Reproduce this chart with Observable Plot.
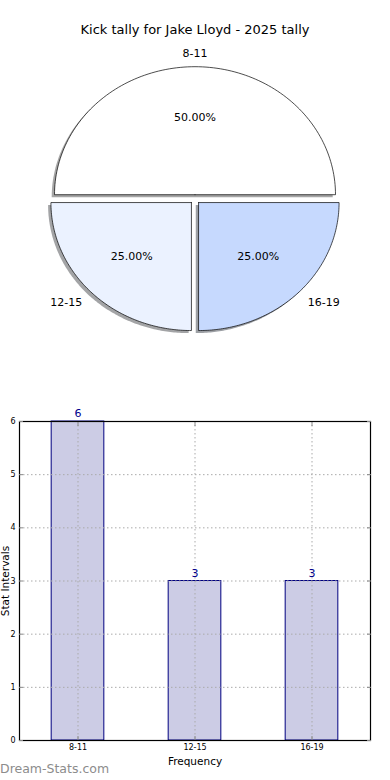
<!DOCTYPE html>
<html>
<head>
<meta charset="utf-8">
<script src="https://cdn.jsdelivr.net/npm/d3@7"></script>
<script src="https://cdn.jsdelivr.net/npm/@observablehq/plot@0.6"></script>
<style>
  html, body { margin: 0; padding: 0; background: #fff; }
  #wrap { position: relative; width: 390px; height: 780px; overflow: hidden; font-family: "DejaVu Sans", sans-serif; }
  #title { position: absolute; left: 0; top: 0; width: 390px; height: 40px; text-align: center; font-size: 13px; line-height: 20px; padding-top: 20px; box-sizing: border-box; color: #000; }
  #pie { position: absolute; left: 0; top: 40px; }
  #bar { position: absolute; left: 0; top: 385px; }
  #mark { position: absolute; left: 0; top: 761px; font-size: 12.5px; color: #8c8c8c; line-height: 16px; }
  svg { overflow: visible; }
  #bar g[aria-label="y-axis label"] text, #bar g[aria-label="x-axis label"] text { font-size: 10.5px; }
</style>
</head>
<body>
<div id="wrap">
  <div id="title">Kick tally for Jake Lloyd - 2025 tally</div>
  <div id="pie"></div>
  <div id="bar"></div>
  <div id="mark">Dream-Stats.com</div>
</div>
<script>
const categories = ["8-11", "12-15", "16-19"];
const counts = [6, 3, 3];
const sliceColors = ["#ffffff", "#ebf2ff", "#c6d9fe"];
const yTicks = [0, 1, 2, 3, 4, 5, 6];
const explode = 0.036;

// ---------- Pie ----------
const total = d3.sum(counts);
let acc = 0;
const slices = categories.map((c, i) => {
  const a0 = acc / total * 2 * Math.PI;
  acc += counts[i];
  const a1 = acc / total * 2 * Math.PI;
  const mid = (a0 + a1) / 2;
  const ox = explode * Math.cos(mid), oy = explode * Math.sin(mid);
  const pts = [[ox, oy]];
  const n = 120;
  for (let k = 0; k <= n; k++) {
    const a = a0 + (a1 - a0) * k / n;
    pts.push([ox + Math.cos(a), oy + Math.sin(a)]);
  }
  pts.push([ox, oy]);
  return {cat: c, i, mid, ox, oy, pts, pct: (counts[i] / total * 100).toFixed(2) + "%"};
});

function darker(hex) {
  const c = d3.rgb(hex);
  return d3.rgb(c.r * 0.3, c.g * 0.3, c.b * 0.3).formatHex();
}

const pieMarks = [];
slices.forEach(s => {
  pieMarks.push(Plot.line(s.pts.map(p => [p[0] - 0.02, p[1] - 0.02]), {
    x: d => d[0], y: d => d[1], fill: darker(sliceColors[s.i]), fillOpacity: 0.5, stroke: "none", curve: "linear"
  }));
});
slices.forEach(s => {
  pieMarks.push(Plot.line(s.pts, {
    x: d => d[0], y: d => d[1], fill: sliceColors[s.i], stroke: "#000", strokeWidth: 0.7, curve: "linear"
  }));
});
const labelData = slices.map(s => ({
  cat: s.cat, pct: s.pct,
  lx: s.ox + 1.1 * Math.cos(s.mid), ly: s.oy + 1.1 * Math.sin(s.mid),
  px: s.ox + 0.6 * Math.cos(s.mid), py: s.oy + 0.6 * Math.sin(s.mid),
  anchor: Math.cos(s.mid) < -0.01 ? "end" : (Math.cos(s.mid) > 0.01 ? "start" : "middle")
}));
["start", "middle", "end"].forEach(an => {
  pieMarks.push(Plot.text(labelData.filter(d => d.anchor === an), {
    x: "lx", y: "ly", text: "cat", textAnchor: an, fontSize: 11, fill: "#000"
  }));
});
pieMarks.push(Plot.text(labelData, {x: "px", y: "py", text: "pct", fontSize: 11, fill: "#000"}));

const pie = Plot.plot({
  width: 390, height: 340,
  margin: 0,
  style: {fontFamily: "DejaVu Sans, sans-serif", background: "transparent"},
  x: {domain: [-194.5 / 140.5, (390 - 194.5) / 140.5], axis: null},
  y: {domain: [(158.8 - 340) / 128, 158.8 / 128], axis: null},
  marks: pieMarks
});
document.getElementById("pie").appendChild(pie);

// ---------- Bar ----------
const barData = categories.map((c, i) => ({cat: c, i, v: counts[i]}));
const bar = Plot.plot({
  width: 390, height: 380,
  marginTop: 36, marginBottom: 25, marginLeft: 19, marginRight: 20,
  style: {fontFamily: "DejaVu Sans, sans-serif", background: "transparent", fontSize: "8px"},
  x: {domain: [-0.5, 2.5]},
  y: {domain: [0, 6]},
  marks: [
    Plot.rectY(barData, {x1: d => d.i - 0.225, x2: d => d.i + 0.225, y1: 0, y2: "v", fill: "#ccccE5", stroke: "#000080", strokeWidth: 1}),
    Plot.ruleY(yTicks, {stroke: "#aaaaaa", strokeDasharray: "1.5,2.5", strokeWidth: 1}),
    Plot.ruleX(barData, {x: "i", stroke: "#aaaaaa", strokeDasharray: "1.5,2.5", strokeWidth: 1}),
    Plot.text(barData, {x: "i", y: "v", text: d => String(d.v), dy: -8, fill: "#00008b", fontSize: 11}),
    Plot.frame({stroke: "#000", strokeWidth: 1.2}),
    Plot.axisY({ticks: yTicks, tickSize: -4, tickPadding: 8, tickFormat: d => String(d), fontSize: 8, stroke: "#888",
      label: "Stat Intervals", labelAnchor: "center", labelArrow: "none", labelOffset: 18}),
    Plot.axisY({anchor: "right", ticks: yTicks, tickSize: -4, tickFormat: () => "", stroke: "#888", label: null}),
    Plot.axisX({ticks: [0, 1, 2], tickSize: -4, tickPadding: 8, tickFormat: d => categories[d], fontSize: 8, stroke: "#888",
      label: "Frequency", labelAnchor: "center", labelArrow: "none", labelOffset: 24}),
    Plot.axisX({anchor: "top", ticks: [0, 1, 2], tickSize: -4, tickFormat: () => "", stroke: "#888", label: null})
  ]
});
document.getElementById("bar").appendChild(bar);
</script>
</body>
</html>
